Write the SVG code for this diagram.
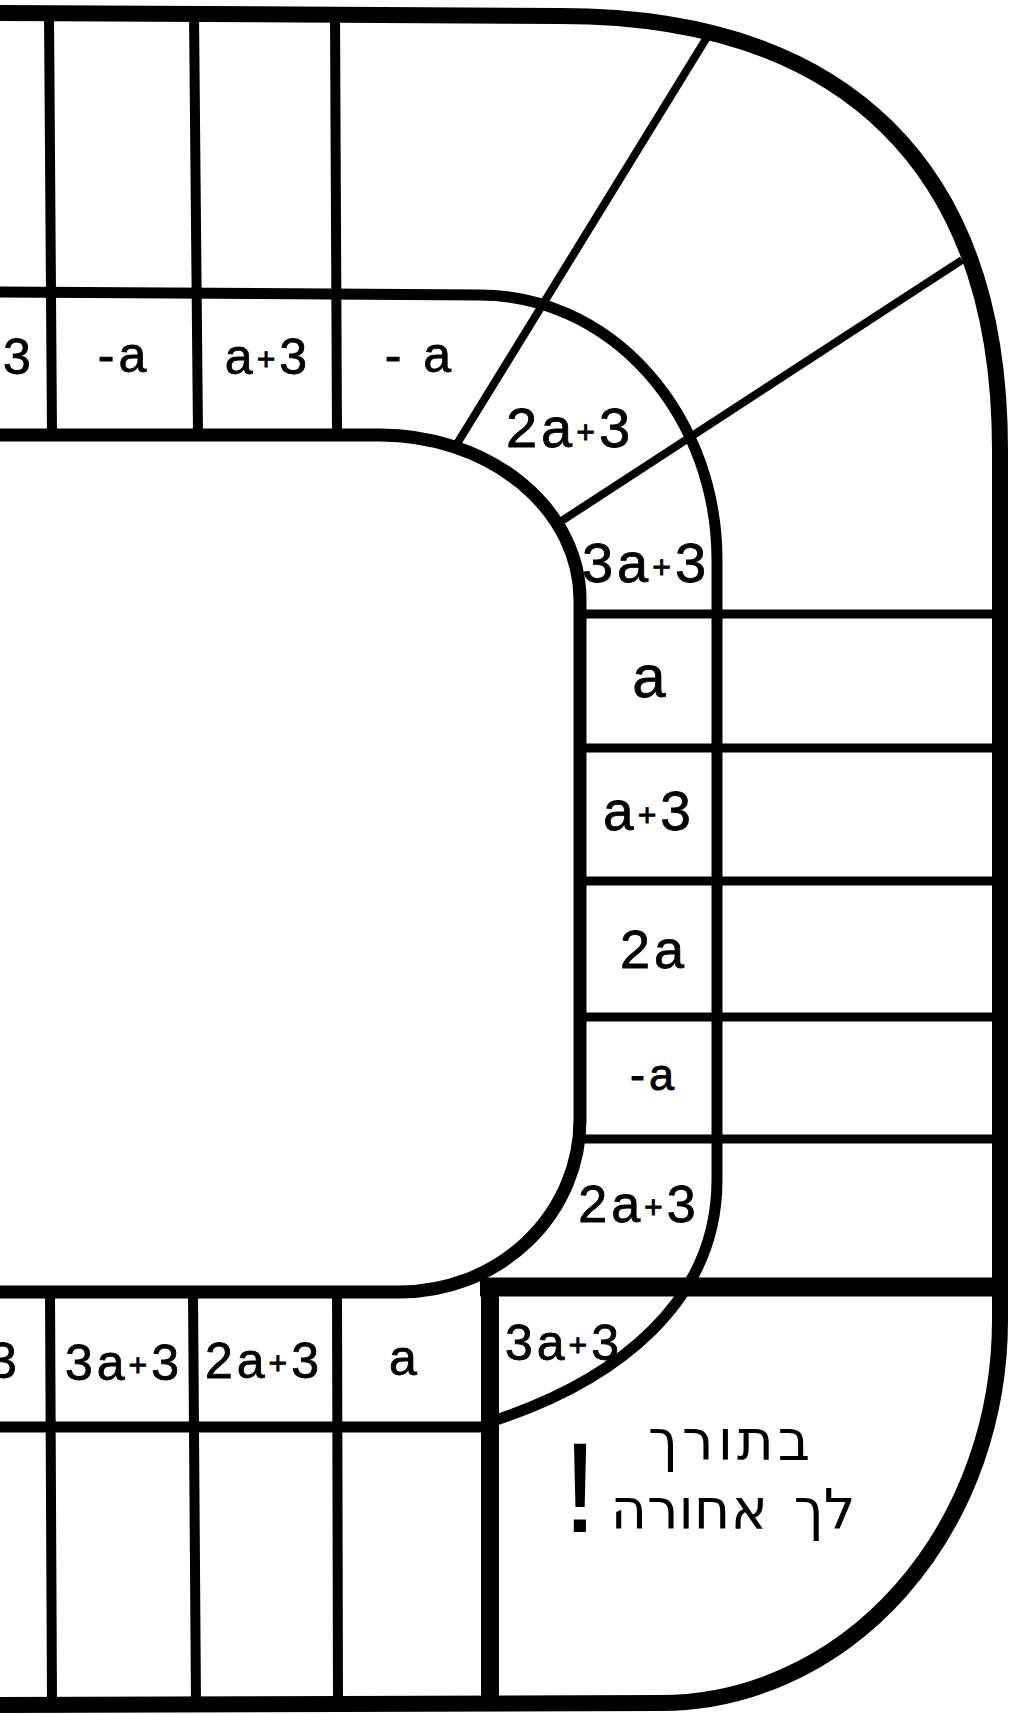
<svg xmlns="http://www.w3.org/2000/svg" width="1013" height="1714" viewBox="0 0 1013 1714">
<style>
.ln{fill:none;stroke:#000;stroke-linecap:butt;stroke-linejoin:round}
.outer{stroke-width:16}
.mid{stroke-width:11}
.inner{stroke-width:13}
.cell{stroke-width:10}
.row{stroke-width:9}
.rad{stroke-width:8}
.thick{stroke-width:19}
.lbl{font-family:"Liberation Sans","DejaVu Sans",sans-serif;font-size:50px;fill:#000;stroke:#000;stroke-width:0.8px;text-anchor:middle;letter-spacing:4px}
.pl{font-size:32px}
.heb{font-family:"DejaVu Sans","Liberation Sans",sans-serif;font-size:56px;fill:#000;text-anchor:middle}
</style>
<rect width="1013" height="1714" fill="#fff"/>
<g id="connectors">
  <path class="ln outer" d="M0,13 L560,16 C846,16 1000,168 1000,450 L1000,1320 A340,383 0 0 1 660,1703 L0,1705"/>
  <path class="ln mid" d="M0,292 L480,295 A237,265 0 0 1 717,560 L717,1180 C717,1300 620,1380 490,1422"/>
  <path class="ln mid" d="M0,1427 L490,1427"/>
  <path class="ln inner" d="M0,435 L380,435 A200,165 0 0 1 580,600 L580,1120 A180,172 0 0 1 400,1292 L0,1292"/>
  <path class="ln rad" d="M455,447 L709,34"/>
  <path class="ln rad" d="M560,522 L962,260"/>
  <path class="ln row" d="M580,614 H1000 M580,748 H1000 M580,881 H1000 M580,1017 H1000 M580,1139 H1000"/>
  <path class="ln cell" d="M49,13 L52,435 M194,13 L198,435 M335,13 L337,435"/>
  <path class="ln cell" d="M50,1292 L52,1705 M193,1292 L196,1705 M337,1292 L338,1705"/>
  <path class="ln thick" d="M480,1287 H1000"/>
  <path class="ln" stroke-width="18" d="M490,1278 V1705"/>
</g>
<g id="top-row">
  <g id="t1"><text class="lbl" x="19" y="374">3</text></g>
  <g id="t2"><text class="lbl" x="124" y="372">-a</text></g>
  <g id="t3"><text class="lbl" x="268" y="374">a<tspan class="pl" dy="-4">+</tspan><tspan dy="4">3</tspan></text></g>
  <g id="t4"><text class="lbl" x="420" y="372">- a</text></g>
</g>
<g id="right-col">
  <g id="r1"><text class="lbl" x="570" y="447" style="font-size:56px">2a<tspan class="pl" dy="-4">+</tspan><tspan dy="4">3</tspan></text></g>
  <g id="r2"><text class="lbl" x="646" y="582" style="font-size:56px">3a<tspan class="pl" dy="-4">+</tspan><tspan dy="4">3</tspan></text></g>
  <g id="r3"><text class="lbl" x="651" y="697" style="font-size:60px">a</text></g>
  <g id="r4"><text class="lbl" x="649" y="830" style="font-size:55px">a<tspan class="pl" dy="-4">+</tspan><tspan dy="4">3</tspan></text></g>
  <g id="r5"><text class="lbl" x="654" y="968" style="font-size:54px">2a</text></g>
  <g id="r6"><text class="lbl" x="654" y="1090" style="font-size:45px">-a</text></g>
  <g id="r7"><text class="lbl" x="639" y="1222" style="font-size:52px">2a<tspan class="pl" dy="-4">+</tspan><tspan dy="4">3</tspan></text></g>
</g>
<g id="bottom-row">
  <g id="b1"><text class="lbl" x="5" y="1378">3</text></g>
  <g id="b2"><text class="lbl" x="124" y="1380">3a<tspan class="pl" dy="-4">+</tspan><tspan dy="4">3</tspan></text></g>
  <g id="b3"><text class="lbl" x="264" y="1378">2a<tspan class="pl" dy="-4">+</tspan><tspan dy="4">3</tspan></text></g>
  <g id="b4"><text class="lbl" x="405" y="1375">a</text></g>
  <g id="b5"><text class="lbl" x="564" y="1360">3a<tspan class="pl" dy="-4">+</tspan><tspan dy="4">3</tspan></text></g>
</g>
<g id="corner-note">
  <text class="heb" x="731" y="1460" letter-spacing="4">בתורך</text>
  <text class="heb" x="733" y="1529" word-spacing="8">לך אחורה</text>
  <text x="580" y="1532" style="font-family:'Liberation Sans',sans-serif;font-size:128px;text-anchor:middle;fill:#000">!</text>
</g>
</svg>
